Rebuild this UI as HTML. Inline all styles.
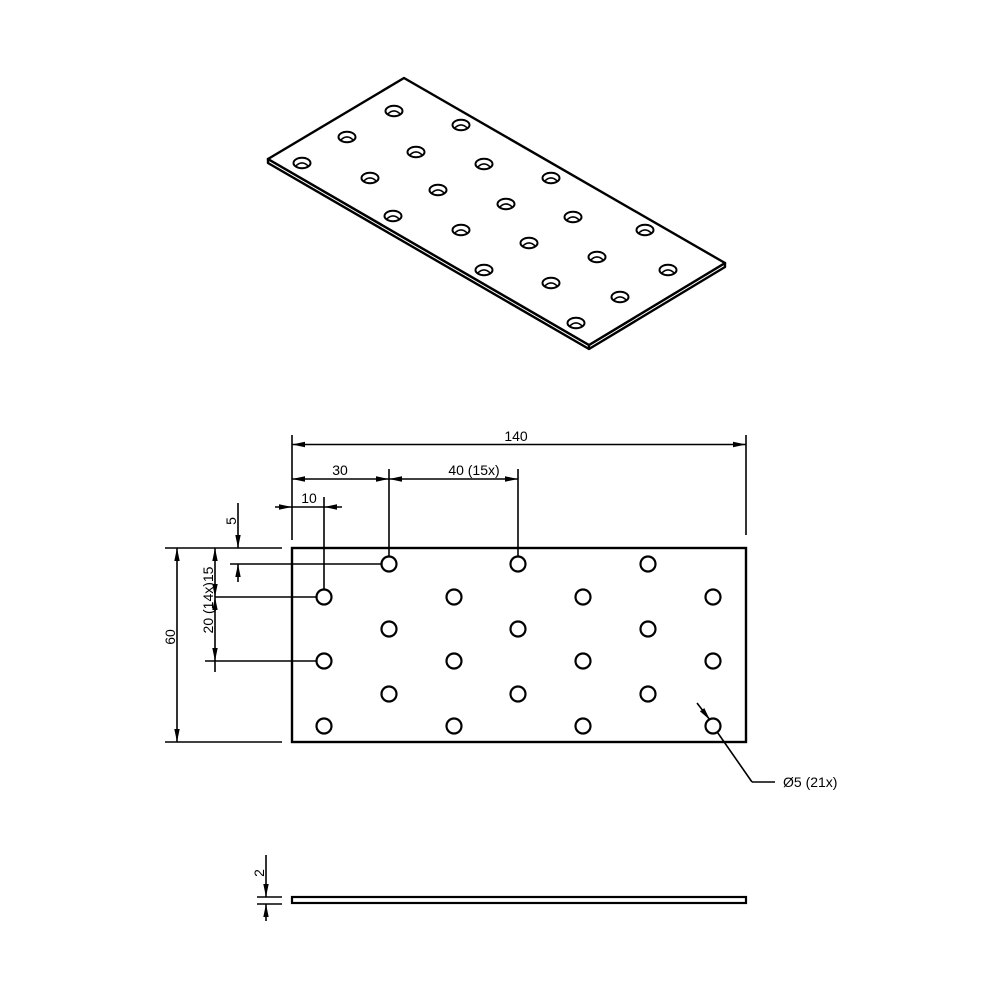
<!DOCTYPE html>
<html><head><meta charset="utf-8"><style>
html,body{margin:0;padding:0;background:#fff;width:1000px;height:1000px;overflow:hidden}
text{font-family:"Liberation Sans",sans-serif;font-size:14px;fill:#000}
</style></head><body>
<svg width="1000" height="1000" viewBox="0 0 1000 1000" xmlns="http://www.w3.org/2000/svg">
<defs>
<marker id="a" viewBox="0 0 13 6" refX="13" refY="3" markerWidth="13" markerHeight="6" markerUnits="userSpaceOnUse" orient="auto"><path d="M0,0.3 L13,3 L0,5.7 z" fill="#000"/></marker>
<marker id="s" viewBox="0 0 13 6" refX="13" refY="3" markerWidth="13" markerHeight="6" markerUnits="userSpaceOnUse" orient="auto-start-reverse"><path d="M0,0.3 L13,3 L0,5.7 z" fill="#000"/></marker>
<g id="ih"><ellipse cx="0" cy="0" rx="8.5" ry="5.2" fill="#fff" stroke="#000" stroke-width="2"/><path d="M-6,2.8 Q0,-3 6,2.8" fill="none" stroke="#000" stroke-width="1.5"/></g>
</defs>
<g stroke="#000" stroke-width="2.4" fill="#fff" stroke-linejoin="round">
<path d="M268,159 L268,163 L589,349 L725,267 L725,263 L589,345 Z"/>
<path d="M404,78 L268,159 L589,345 L725,263 Z"/>
<path d="M589,345 L589,349" fill="none"/>
</g>
<g>
<use href="#ih" x="394" y="111"/><use href="#ih" x="461" y="125"/><use href="#ih" x="347" y="137"/>
<use href="#ih" x="416" y="152"/><use href="#ih" x="302" y="163"/><use href="#ih" x="484" y="164"/>
<use href="#ih" x="370" y="178"/><use href="#ih" x="551" y="178"/><use href="#ih" x="438" y="190"/>
<use href="#ih" x="506" y="204"/><use href="#ih" x="393" y="216"/><use href="#ih" x="573" y="217"/>
<use href="#ih" x="461" y="230"/><use href="#ih" x="645" y="230"/><use href="#ih" x="529" y="243"/>
<use href="#ih" x="597" y="257"/><use href="#ih" x="484" y="270"/><use href="#ih" x="668" y="270"/>
<use href="#ih" x="551" y="283"/><use href="#ih" x="620" y="297"/><use href="#ih" x="576" y="323"/>
</g>
<g stroke="#000" fill="none">
<rect x="292" y="548" width="454" height="194" stroke-width="2.4"/>
<g stroke-width="1.6">
<line x1="292" y1="435" x2="292" y2="540"/>
<line x1="746" y1="435" x2="746" y2="535"/>
<line x1="389" y1="469" x2="389" y2="556"/>
<line x1="518" y1="469" x2="518" y2="556"/>
<line x1="324" y1="497" x2="324" y2="589"/>
<line x1="165" y1="548" x2="282" y2="548"/>
<line x1="165" y1="742" x2="282" y2="742"/>
<line x1="230" y1="564" x2="381" y2="564"/>
<line x1="215" y1="597" x2="316" y2="597"/>
<line x1="205" y1="661" x2="316" y2="661"/>
<line x1="292" y1="444.5" x2="746" y2="444.5" marker-start="url(#s)" marker-end="url(#a)"/>
<line x1="292" y1="479" x2="389" y2="479" marker-start="url(#s)" marker-end="url(#a)"/>
<line x1="389" y1="479" x2="518" y2="479" marker-start="url(#s)" marker-end="url(#a)"/>
<line x1="275" y1="507" x2="292" y2="507" marker-end="url(#a)"/>
<line x1="342" y1="507" x2="324" y2="507" marker-end="url(#a)"/>
<line x1="292" y1="507" x2="324" y2="507"/>
<line x1="177" y1="548" x2="177" y2="742" marker-start="url(#s)" marker-end="url(#a)"/>
<line x1="238" y1="503" x2="238" y2="548" marker-end="url(#a)"/>
<line x1="238" y1="582" x2="238" y2="564" marker-end="url(#a)"/>
<line x1="215" y1="548" x2="215" y2="597" marker-start="url(#s)" marker-end="url(#a)"/>
<line x1="215" y1="597" x2="215" y2="661" marker-start="url(#s)" marker-end="url(#a)"/>
<line x1="215" y1="661" x2="215" y2="672"/>
<line x1="697" y1="703" x2="710" y2="720" marker-end="url(#a)"/>
<line x1="713" y1="726" x2="752" y2="782"/>
<line x1="752" y1="782" x2="775" y2="782"/>
</g>
<g stroke-width="2.2" fill="#fff">
<circle cx="389" cy="564" r="7.5"/><circle cx="518" cy="564" r="7.5"/><circle cx="648" cy="564" r="7.5"/>
<circle cx="324" cy="597" r="7.5"/><circle cx="454" cy="597" r="7.5"/><circle cx="583" cy="597" r="7.5"/><circle cx="713" cy="597" r="7.5"/>
<circle cx="389" cy="629" r="7.5"/><circle cx="518" cy="629" r="7.5"/><circle cx="648" cy="629" r="7.5"/>
<circle cx="324" cy="661" r="7.5"/><circle cx="454" cy="661" r="7.5"/><circle cx="583" cy="661" r="7.5"/><circle cx="713" cy="661" r="7.5"/>
<circle cx="389" cy="694" r="7.5"/><circle cx="518" cy="694" r="7.5"/><circle cx="648" cy="694" r="7.5"/>
<circle cx="324" cy="726" r="7.5"/><circle cx="454" cy="726" r="7.5"/><circle cx="583" cy="726" r="7.5"/><circle cx="713" cy="726" r="7.5"/>
</g>
<rect x="292" y="897" width="454" height="6" stroke-width="2.2"/>
<g stroke-width="1.6">
<line x1="257" y1="897" x2="282" y2="897"/>
<line x1="257" y1="904" x2="282" y2="904"/>
<line x1="266" y1="855" x2="266" y2="897" marker-end="url(#a)"/>
<line x1="266" y1="921" x2="266" y2="904" marker-end="url(#a)"/>
</g>
</g>
<text x="516" y="441" text-anchor="middle">140</text>
<text x="340" y="475" text-anchor="middle">30</text>
<text x="474" y="475" text-anchor="middle">40 (15x)</text>
<text x="309" y="503" text-anchor="middle">10</text>
<text x="783" y="787">Ø5 (21x)</text>
<text transform="translate(175,637) rotate(-90)" text-anchor="middle">60</text>
<text transform="translate(236,521) rotate(-90)" text-anchor="middle">5</text>
<text transform="translate(213,600) rotate(-90)" text-anchor="middle">20  (14x)15</text>
<text transform="translate(264,873) rotate(-90)" text-anchor="middle">2</text>
</svg>
</body></html>
